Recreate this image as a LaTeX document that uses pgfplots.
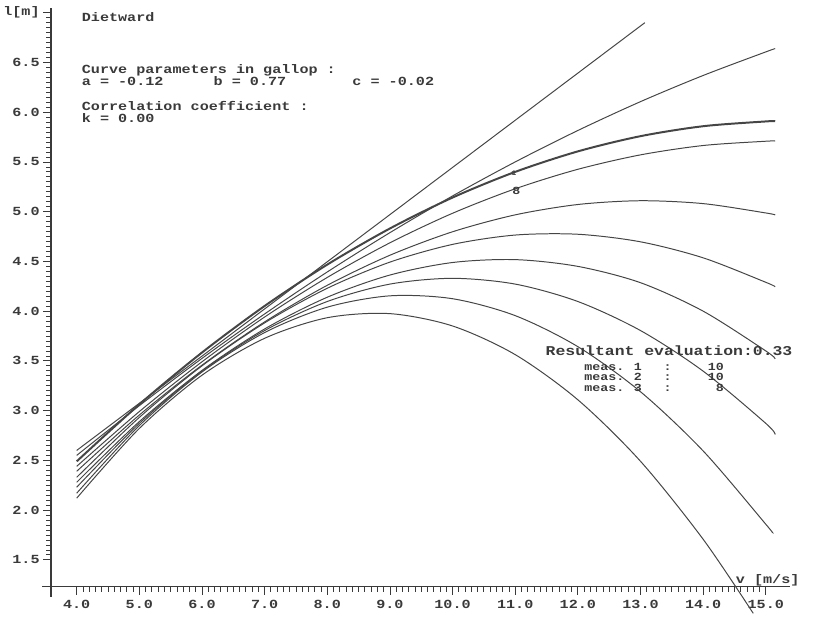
\documentclass[border=0pt]{standalone}
\usepackage{fontspec}
\usepackage{pgfplots}
\pgfplotsset{compat=1.18}
\newfontfamily\dotfont[FakeStretch=1.22]{Liberation Mono Bold}
\definecolor{ink}{HTML}{3A3A3A}
\definecolor{pen}{HTML}{454545}
\newcommand\df{\dotfont\fontsize{12.5}{14}\selectfont}
\newcommand\rf{\dotfont\fontsize{13.6}{15}\selectfont}
\newcommand\mf{\dotfont\fontsize{11}{12}\selectfont}
\begin{document}
\begin{tikzpicture}
\begin{axis}[
  scale only axis, width=746pt, height=584pt,
  xmin=3.59, xmax=15.39, ymin=1.231, ymax=7.048,
  axis x line=bottom, axis y line=left,
  axis line style={-, draw=ink, line width=1.1pt},
  x axis line style={shorten <=-9pt},
  y axis line style={shorten <=-10pt},
  xtick={4,5,6,7,8,9,10,11,12,13,14,15},
  xticklabels={4.0,5.0,6.0,7.0,8.0,9.0,10.0,11.0,12.0,13.0,14.0,15.0},
  ytick={1.5,2,2.5,3,3.5,4,4.5,5,5.5,6,6.5,7},
  yticklabels={1.5,2.0,2.5,3.0,3.5,4.0,4.5,5.0,5.5,6.0,6.5,{l[m]}},
  minor x tick num=9, minor y tick num=9,
  tick align=outside,
  major tick length=8pt, minor tick length=5pt,
  tick style={draw=ink, line width=0.8pt},
  ticklabel style={font=\df, text=ink},
  xticklabel style={yshift=-2pt},
  clip=false,
]
\coordinate (O) at (rel axis cs:0,0);
% curves
\addplot[pen, line width=1pt] coordinates {(4,2.60)(13.07,6.90)};
\addplot[pen, line width=1pt, smooth] coordinates {(4,2.55)(5,3.050)(6,3.525)(7,3.972)(8,4.394)(9,4.789)(10,5.158)(11,5.500)(12,5.816)(13,6.106)(14,6.369)(15,6.606)(15.15,6.639)};
\addplot[pen, line width=2pt, smooth] coordinates {(4,2.49)(5,3.063)(6,3.584)(7,4.052)(8,4.468)(9,4.831)(10,5.142)(11,5.400)(12,5.606)(13,5.759)(14,5.859)(15,5.907)(15.15,5.910)};
\addplot[pen, line width=1pt, smooth] coordinates {(4,2.44)(5,2.991)(6,3.491)(7,3.941)(8,4.339)(9,4.687)(10,4.984)(11,5.230)(12,5.426)(13,5.571)(14,5.665)(15,5.708)(15.15,5.710)};
\addplot[pen, line width=1pt, smooth] coordinates {(4,2.390)(5,2.956)(6,3.457)(7,3.892)(8,4.260)(9,4.562)(10,4.798)(11,4.968)(12,5.072)(13,5.110)(14,5.081)(15,4.987)(15.15,4.967)};
\addplot[pen, line width=1pt, smooth] coordinates {(4,2.330)(5,2.932)(6,3.450)(7,3.882)(8,4.230)(9,4.493)(10,4.671)(11,4.765)(12,4.773)(13,4.697)(14,4.536)(15,4.290)(15.15,4.245)};
\addplot[pen, line width=1pt, smooth] coordinates {(4,2.280)(5,2.890)(6,3.404)(7,3.821)(8,4.140)(9,4.363)(10,4.489)(11,4.518)(12,4.450)(13,4.286)(14,4.000)(15,3.600)(15.15,3.520)};
\addplot[pen, line width=1pt, smooth] coordinates {(4,2.230)(5,2.872)(6,3.397)(7,3.805)(8,4.097)(9,4.272)(10,4.330)(11,4.272)(12,4.097)(13,3.805)(14,3.397)(15,2.872)(15.15,2.760)};
\addplot[pen, line width=1pt, smooth] coordinates {(4,2.170)(5,2.850)(6,3.388)(7,3.785)(8,4.040)(9,4.154)(10,4.125)(11,3.955)(12,3.643)(13,3.190)(14,2.595)(15,1.858)(15.1,1.777)};
\addplot[pen, line width=1pt, smooth] coordinates {(4,2.120)(5,2.821)(6,3.356)(7,3.727)(8,3.934)(9,3.975)(10,3.851)(11,3.563)(12,3.109)(13,2.491)(14,1.707)(14.8,0.962)};
% texts
\node[anchor=base west, font=\df, text=ink, inner sep=0pt] at (axis cs:4.08,6.908) {Dietward};
\node[anchor=base west, font=\df, text=ink, inner sep=0pt] at (axis cs:4.08,6.390) {Curve parameters in gallop :};
\node[anchor=base west, font=\df, text=ink, inner sep=0pt] at (axis cs:4.08,6.271) {a = -0.12};
\node[anchor=base west, font=\df, text=ink, inner sep=0pt] at (axis cs:6.184,6.271) {b = 0.77};
\node[anchor=base west, font=\df, text=ink, inner sep=0pt] at (axis cs:8.399,6.271) {c = -0.02};
\node[anchor=base west, font=\df, text=ink, inner sep=0pt] at (axis cs:4.08,6.012) {Correlation coefficient :};
\node[anchor=base west, font=\df, text=ink, inner sep=0pt] at (axis cs:4.08,5.893) {k = 0.00};
\node[anchor=base west, font=\rf, text=ink, inner sep=0pt] at (axis cs:11.484,3.552) {Resultant evaluation:0.33};
\node[anchor=base west, font=\mf, text=ink, inner sep=0pt] at (axis cs:12.101,3.407) {meas.};
\node[anchor=base west, font=\mf, text=ink, inner sep=0pt] at (axis cs:12.101,3.298) {meas.};
\node[anchor=base west, font=\mf, text=ink, inner sep=0pt] at (axis cs:12.101,3.188) {meas.};
\node[anchor=base west, font=\mf, text=ink, inner sep=0pt] at (axis cs:12.892,3.407) {1};
\node[anchor=base west, font=\mf, text=ink, inner sep=0pt] at (axis cs:12.892,3.298) {2};
\node[anchor=base west, font=\mf, text=ink, inner sep=0pt] at (axis cs:12.892,3.188) {3};
\node[anchor=base west, font=\mf, text=ink, inner sep=0pt] at (axis cs:13.367,3.407) {:};
\node[anchor=base west, font=\mf, text=ink, inner sep=0pt] at (axis cs:13.367,3.298) {:};
\node[anchor=base west, font=\mf, text=ink, inner sep=0pt] at (axis cs:13.367,3.188) {:};
\node[anchor=base east, font=\mf, text=ink, inner sep=0pt] at (axis cs:14.332,3.407) {10};
\node[anchor=base east, font=\mf, text=ink, inner sep=0pt] at (axis cs:14.332,3.298) {10};
\node[anchor=base east, font=\mf, text=ink, inner sep=0pt] at (axis cs:14.332,3.188) {8};
\node[anchor=base west, font=\df, text=ink, inner sep=0pt] at (axis cs:14.52,1.265) {v [m/s]};
\node[anchor=base, font=\mf, text=ink, inner sep=0pt] at (axis cs:11.02,5.175) {8};
\node[anchor=base, font=\dotfont\fontsize{7}{8}\selectfont, text=ink, inner sep=0pt] at (axis cs:10.98,5.36) {1};
\end{axis}
\path (O) ++(-44pt,-38pt) rectangle ++(815pt,630pt);
\end{tikzpicture}
\end{document}
